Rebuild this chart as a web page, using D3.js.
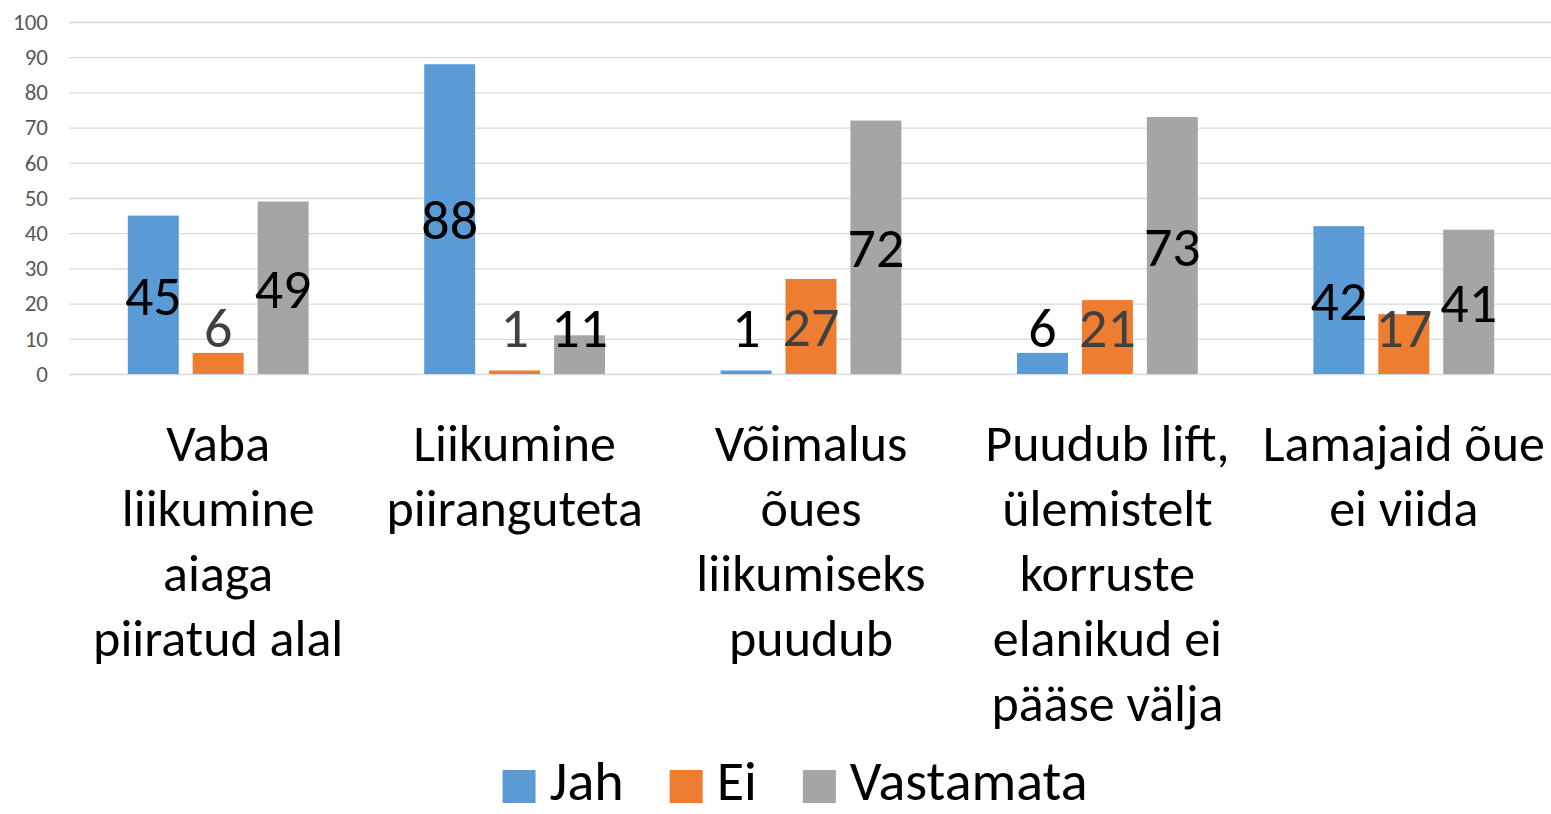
<!doctype html>
<html>
<head>
<meta charset="utf-8">
<style>
    body { margin: 0; background: #fff; }
    text { font-family: Carlito, Calibri, Lato, sans-serif; }
</style>
<script src="https://d3js.org/d3.v7.min.js"></script>
</head>
<body>
<svg width="1551" height="814"></svg>
<script>

    var categories = ["Vaba liikumine aiaga piiratud alal", "Liikumine piiranguteta",
        "Võimalus õues liikumiseks puudub", "Puudub lift, ülemistelt korruste elanikud ei pääse välja",
        "Lamajaid õue ei viida"];
    // line breaks as they appear under the axis
    var categoryLines = [
        ["Vaba", "liikumine", "aiaga", "piiratud alal"],
        ["Liikumine", "piiranguteta"],
        ["Võimalus", "õues", "liikumiseks", "puudub"],
        ["Puudub lift,", "ülemistelt", "korruste", "elanikud ei", "pääse välja"],
        ["Lamajaid õue", "ei viida"]
    ];
    var seriesNames = ["Jah", "Ei", "Vastamata"];
    var jah = [45, 88, 1, 6, 42];
    var ei = [6, 1, 27, 21, 17];
    var vastamata = [49, 11, 72, 73, 41];
    var yTicks = [0, 10, 20, 30, 40, 50, 60, 70, 80, 90, 100];

    var colors = ["#5B9BD5", "#ED7D31", "#A5A5A5"];
    var labelColors = ["#000000", "#404040", "#000000"];

    var series = [jah, ei, vastamata];
    var svg = d3.select("svg");

    var x0 = d3.scaleBand().domain(categories).range([70, 1552])
        .paddingInner(0.39).paddingOuter(0.195);
    var x1 = d3.scaleBand().domain(seriesNames).range([0, x0.bandwidth()])
        .paddingInner(0.215);
    var y = d3.scaleLinear().domain([0, 100]).range([374, 22]);

    // gridlines
    svg.append("g").selectAll("line")
        .data(yTicks)
        .enter().append("line")
        .attr("x1", 69).attr("x2", 1551)
        .attr("y1", function(d) { return y(d) + 0.5; })
        .attr("y2", function(d) { return y(d) + 0.5; })
        .attr("stroke", "#D9D9D9")
        .attr("stroke-width", 1.3);

    // y axis labels
    var yAxis = svg.append("g")
        .attr("transform", "translate(56,0)")
        .call(d3.axisLeft(y).tickValues(yTicks).tickSize(0).tickPadding(8));
    yAxis.select(".domain").remove();
    yAxis.selectAll("text")
        .attr("font-family", "Carlito, Calibri, Lato, sans-serif")
        .attr("font-size", "23px")
        .attr("fill", "#595959");

    // bars
    var groups = svg.append("g").selectAll("g")
        .data(categories)
        .enter().append("g")
        .attr("transform", function(d) { return "translate(" + x0(d) + ",0)"; });

    groups.selectAll("rect")
        .data(function(d, i) { return series.map(function(s, j) { return {name: seriesNames[j], value: s[i], j: j}; }); })
        .enter().append("rect")
        .attr("x", function(d) { return x1(d.name); })
        .attr("y", function(d) { return y(d.value); })
        .attr("width", x1.bandwidth())
        .attr("height", function(d) { return y(0) - y(d.value); })
        .attr("fill", function(d) { return colors[d.j]; });

    // data labels, centred in bar but kept above the axis
    groups.selectAll("text.lbl")
        .data(function(d, i) { return series.map(function(s, j) { return {name: seriesNames[j], value: s[i], j: j}; }); })
        .enter().append("text")
        .attr("class", "lbl")
        .attr("x", function(d) { return x1(d.name) + x1.bandwidth() / 2; })
        .attr("y", function(d) { return Math.min((y(d.value) + y(0)) / 2, y(0) - 47) + 20; })
        .attr("text-anchor", "middle")
        .attr("font-size", "56px")
        .attr("fill", function(d) { return labelColors[d.j]; })
        .text(function(d) { return d.value; });

    // category labels
    svg.append("g").selectAll("text")
        .data(categories)
        .enter().append("text")
        .attr("text-anchor", "middle")
        .attr("font-size", "52px")
        .attr("fill", "#000")
        .each(function(d, i) {
            var t = d3.select(this);
            categoryLines[i].forEach(function(line, k) {
                t.append("tspan")
                    .attr("x", x0(d) + x0.bandwidth() / 2)
                    .attr("y", 461 + k * 65)
                    .text(line);
            });
        });

    // legend
    var legend = svg.append("g");
    var items = legend.selectAll("g")
        .data(seriesNames)
        .enter().append("g");
    items.append("rect")
        .attr("width", 33).attr("height", 33)
        .attr("y", 770)
        .attr("fill", function(d, i) { return colors[i]; });
    items.append("text")
        .attr("x", 47)
        .attr("y", 800)
        .attr("font-size", "56px")
        .attr("fill", "#000")
        .text(function(d) { return d; });
    var pos = 0, offsets = [];
    items.each(function(d, i) {
        offsets.push(pos);
        pos += 47 + d3.select(this).select("text").node().getComputedTextLength() + 46;
    });
    var total = pos - 46;
    var start = 795 - total / 2;
    items.attr("transform", function(d, i) { return "translate(" + (start + offsets[i]) + ",0)"; });

</script>
</body>
</html>
